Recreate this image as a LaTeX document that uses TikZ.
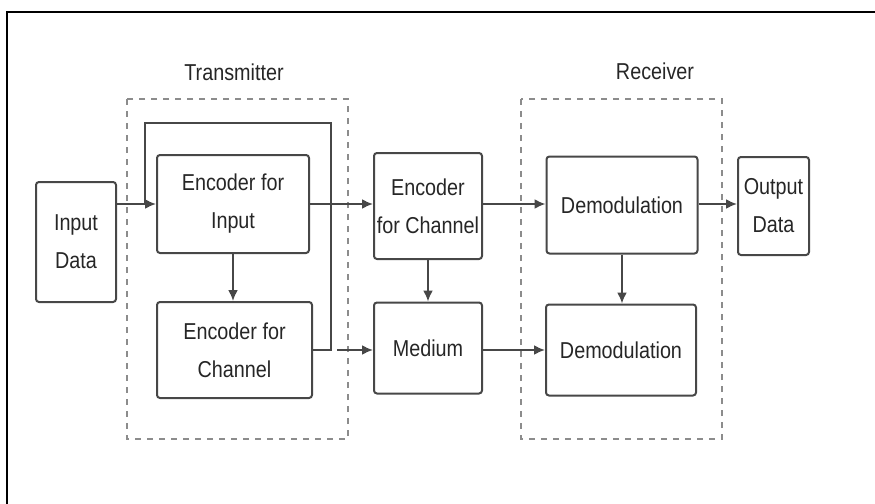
\documentclass[tikz,border=0pt]{standalone}
\usepackage{fontspec}
\setmainfont{Liberation Sans}[FakeStretch=0.86]
\usetikzlibrary{arrows.meta,positioning}
\definecolor{boxline}{HTML}{474747}

\begin{document}
\begin{tikzpicture}[
  x=0.5pt, y=-0.5pt, >={Latex[length=5.5pt,width=5pt]},
  every node/.style={font=\fontsize{11.5}{19}\selectfont, text=black!85},
  blk/.style={draw=boxline, line width=1pt, rounded corners=1.5pt, align=center, inner sep=0pt},
  grp/.style={draw=black!45, dashed, line width=0.7pt},
  link/.style={draw=boxline, line width=1pt}
]
  \useasboundingbox (0,0) rectangle (875,504);
  \draw[line width=1.1pt] (7,504) -- (7,12) -- (875,12);

  % groups
  \draw[grp] (127,99) rectangle (348,439);
  \draw[grp] (521,99) rectangle (722,439);
  \node (txlbl) at (234,72) {Transmitter};
  \node (rxlbl) at (655,71) {Receiver};

  % blocks
  \node[blk, minimum width=40pt, minimum height=60pt] (inp) at (76,242) {Input\\Data};
  \node[blk, minimum width=76pt, minimum height=49pt] (encin) at (233,204) {Encoder for\\Input};
  \node[blk, minimum width=77.5pt, minimum height=48pt] (encch) at (234.5,350) {Encoder for\\Channel};
  \node[blk, minimum width=54pt, minimum height=53pt] (encch2) at (428,206) {Encoder\\for Channel};
  \node[blk, minimum width=54pt, minimum height=45.5pt] (medium) at (428,348) {Medium};
  \node[blk, minimum width=75.5pt, minimum height=48.5pt] (demod1) at (622,205) {Demodulation};
  \node[blk, minimum width=75pt, minimum height=45.5pt] (demod2) at (621,350) {Demodulation};
  \node[blk, minimum width=35.5pt, minimum height=49pt] (out) at (773.5,206) {Output\\Data};

  % feedback loop round the encoders
  \coordinate (loopR) at (331,123);
  \coordinate (loopL) at (145,123);
  \coordinate (mgap) at (337,350);
  \draw[link] (encch.east) -| (loopR) -- (loopL) -- (loopL |- encin.west);

  % connectors
  \draw[link,->] (inp.east |- encin.west) -- (encin.west);
  \draw[link,->] (encin.south) -- (encin.south |- encch.north);
  \draw[link,->] (encin.east) -- (encin.east -| encch2.west);
  \draw[link,->] (mgap) -- (mgap -| medium.west);
  \draw[link,->] (encch2.south) -- (medium.north);
  \draw[link,->] (encch2.east |- encin.east) -- (encin.east -| demod1.west);
  \draw[link,->] (demod1.east |- encin.east) -- (encin.east -| out.west);
  \draw[link,->] (mgap -| medium.east) -- (mgap -| demod2.west);
  \draw[link,->] (demod1.south) -- (demod1.south |- demod2.north);
\end{tikzpicture}
\end{document}
